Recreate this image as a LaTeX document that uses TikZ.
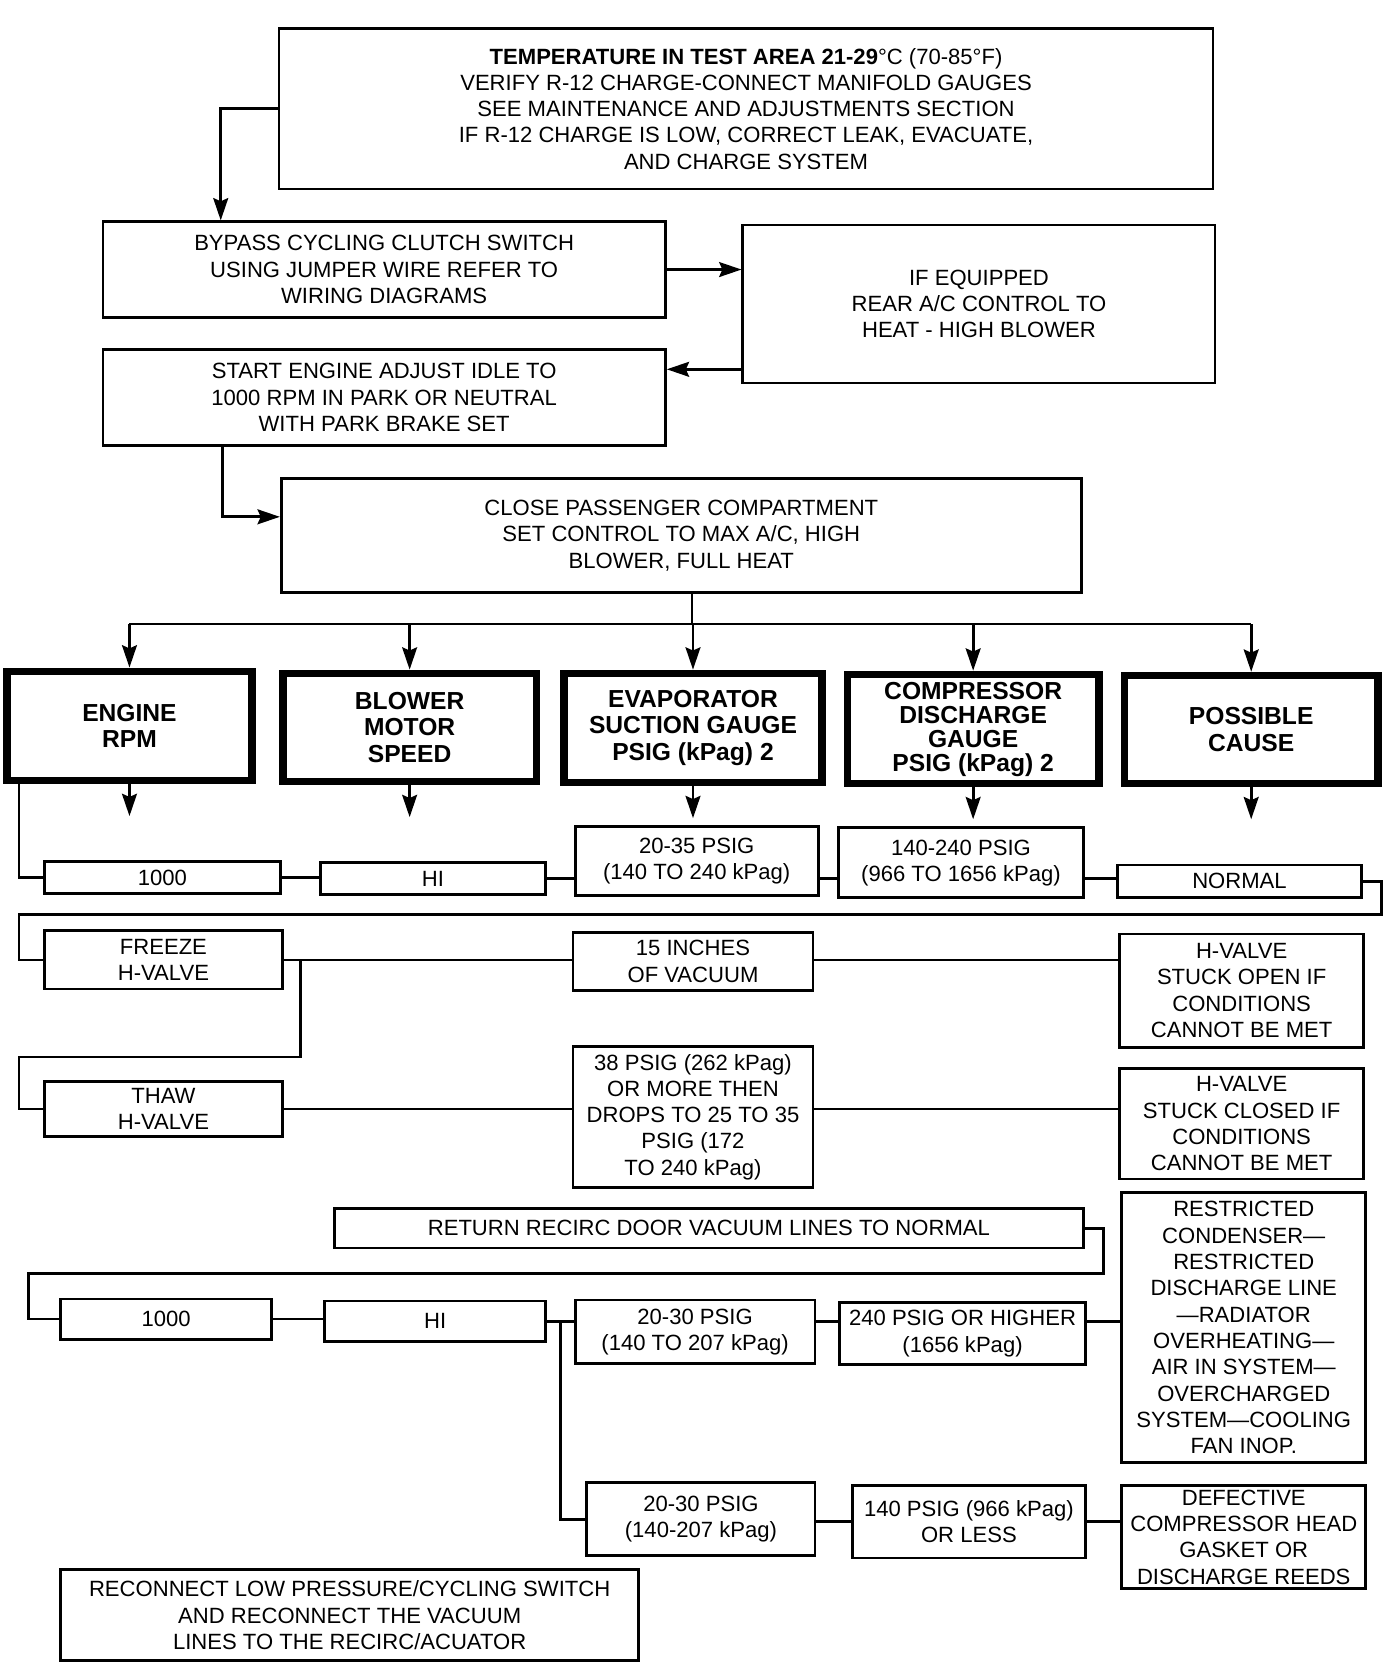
\documentclass[tikz,border=0pt]{standalone}
\usepackage{fontspec}
\setmainfont{Liberation Sans}
\usetikzlibrary{arrows.meta}

\begin{document}
\begin{tikzpicture}[x=0.5pt,y=-0.5pt,
    box/.style={draw,line width=1.3pt,align=center,inner sep=0pt,font=\fontsize{10.4}{12.4}\selectfont},
    headbox/.style={draw,line width=3.5pt,align=center,inner sep=0pt,font=\fontsize{11.6}{12.5}\selectfont\bfseries},
    wire/.style={line width=1.3pt},
    arr/.style={wire,-{Stealth[length=10.5pt,width=7pt,inset=1.5pt]}}]

    \useasboundingbox (0,0) rectangle (1312,1568);

    \node[box,minimum width=440pt,minimum height=75.5pt] (top) at (703,102.5) {\textbf{TEMPERATURE IN TEST AREA 21-29}°C (70-85°F)\\VERIFY R-12 CHARGE-CONNECT MANIFOLD GAUGES\\SEE MAINTENANCE AND ADJUSTMENTS SECTION\\IF R-12 CHARGE IS LOW, CORRECT LEAK, EVACUATE,\\AND CHARGE SYSTEM};
    \node[box,minimum width=265pt,minimum height=45pt] (bypass) at (362,254) {BYPASS CYCLING CLUTCH SWITCH\\USING JUMPER WIRE REFER TO\\WIRING DIAGRAMS};
    \node[box,minimum width=222.5pt,minimum height=74.5pt] (equip) at (922.5,286.5) {IF EQUIPPED\\REAR A/C CONTROL TO\\HEAT - HIGH BLOWER};
    \node[box,minimum width=265pt,minimum height=45.5pt] (start) at (362,374.5) {START ENGINE ADJUST IDLE TO\\1000 RPM IN PARK OR NEUTRAL\\WITH PARK BRAKE SET};
    \node[box,minimum width=377pt,minimum height=53.5pt] (close) at (642,504.5) {CLOSE PASSENGER COMPARTMENT\\SET CONTROL TO MAX A/C, HIGH\\BLOWER, FULL HEAT};

    \node[headbox,minimum width=115.5pt,minimum height=51.5pt] (erpm) at (122,684) {ENGINE\\RPM};
    \node[headbox,minimum width=119.5pt,minimum height=51pt] (blower) at (386,685.5) {BLOWER\\MOTOR\\SPEED};
    \node[headbox,minimum width=121.5pt,minimum height=51.5pt] (evap) at (653,686) {EVAPORATOR\\SUCTION GAUGE\\PSIG (kPag) 2};
    \node[headbox,minimum width=118.5pt,minimum height=51.5pt,font=\fontsize{11.6}{11.3}\selectfont\bfseries] (comp) at (917,687) {COMPRESSOR\\DISCHARGE\\GAUGE\\PSIG (kPag) 2};
    \node[headbox,minimum width=119.5pt,minimum height=51pt] (cause) at (1179,687.5) {POSSIBLE\\CAUSE};

    \node[box,minimum width=111pt,minimum height=15pt] (r1a) at (153,827) {1000};
    \node[box,minimum width=106pt,minimum height=15pt] (r1b) at (408,828) {HI};
    \node[box,minimum width=114.5pt,minimum height=32.5pt] (r1c) at (656.5,811.5) {20-35 PSIG\\(140 TO 240 kPag)};
    \node[box,minimum width=115.5pt,minimum height=33pt] (r1d) at (905.5,813) {140-240 PSIG\\(966 TO 1656 kPag)};
    \node[box,minimum width=115pt,minimum height=15.5pt] (r1e) at (1168,830.5) {NORMAL};

    \node[box,minimum width=112pt,minimum height=27.5pt] (freeze) at (154,904.5) {FREEZE\\H-VALVE};
    \node[box,minimum width=113pt,minimum height=27pt] (vac15) at (653,906) {15 INCHES\\OF VACUUM};
    \node[box,minimum width=115pt,minimum height=53.5pt] (hopen) at (1170,933.5) {H-VALVE\\STUCK OPEN IF\\CONDITIONS\\CANNOT BE MET};

    \node[box,minimum width=112pt,minimum height=26pt] (thaw) at (154,1045) {THAW\\H-VALVE};
    \node[box,minimum width=113pt,minimum height=66.5pt] (drops) at (653,1052.5) {38 PSIG (262 kPag)\\OR MORE THEN\\DROPS TO 25 TO 35\\PSIG (172\\TO 240 kPag)};
    \node[box,minimum width=115pt,minimum height=52pt] (hclosed) at (1170,1059) {H-VALVE\\STUCK CLOSED IF\\CONDITIONS\\CANNOT BE MET};

    \node[box,minimum width=353pt,minimum height=18.5pt] (ret) at (668,1157.5) {RETURN RECIRC DOOR VACUUM LINES TO NORMAL};

    \node[box,minimum width=99.5pt,minimum height=19pt] (r4a) at (156.5,1243) {1000};
    \node[box,minimum width=104pt,minimum height=19pt] (r4b) at (410,1245) {HI};
    \node[box,minimum width=113pt,minimum height=30pt] (r4c) at (655,1255) {20-30 PSIG\\(140 TO 207 kPag)};
    \node[box,minimum width=116pt,minimum height=29.5pt] (r4d) at (907,1256.5) {240 PSIG OR HIGHER\\(1656 kPag)};
    \node[box,minimum width=115pt,minimum height=127pt] (restr) at (1172,1251) {RESTRICTED\\CONDENSER—\\RESTRICTED\\DISCHARGE LINE\\—RADIATOR\\OVERHEATING—\\AIR IN SYSTEM—\\OVERCHARGED\\SYSTEM—COOLING\\FAN INOP.};

    \node[box,minimum width=107.5pt,minimum height=34.5pt] (r5a) at (660.5,1431.5) {20-30 PSIG\\(140-207 kPag)};
    \node[box,minimum width=110pt,minimum height=34pt] (r5b) at (913,1434) {140 PSIG (966 kPag)\\OR LESS};
    \node[box,minimum width=115pt,minimum height=48.5pt] (defect) at (1172,1448.5) {DEFECTIVE\\COMPRESSOR HEAD\\GASKET OR\\DISCHARGE REEDS};

    \node[box,minimum width=272.5pt,minimum height=43pt] (recon) at (329.5,1522) {RECONNECT LOW PRESSURE/CYCLING SWITCH\\AND RECONNECT THE VACUUM\\LINES TO THE RECIRC/ACUATOR};

    \draw[arr] (top.west) -| (bypass.north -| 208,0);
    \draw[arr] (bypass.east) -- (bypass.east -| equip.west);
    \draw[arr] (equip.west |- 0,348) -- (start.east |- 0,348);
    \draw[arr] (start.south -| 210,0) |- (close.west |- 0,487);

    \draw[wire] (close.south -| 652,0) -- (652,588);
    \draw[wire] (erpm.north |- 0,588) -- (cause.north |- 0,588);
    \foreach \h in {erpm,blower,evap,comp,cause} {
        \draw[arr] (\h.north |- 0,588) -- (\h.north);
        \draw[arr] (\h.south) -- ++(0,30);
    }

    \draw[wire] (erpm.south -| 18,0) |- (r1a.west);
    \draw[wire] (r1a.east) -- (r1a.east -| r1b.west);
    \draw[wire] (r1b.east) -- (r1b.east -| r1c.west);
    \draw[wire] (r1b.east -| r1c.east) -- (r1b.east -| r1d.west);
    \draw[wire] (r1b.east -| r1d.east) -- (r1b.east -| r1e.west);
    \draw[wire] (r1e.east) -| (1302,862) -| (freeze.west -| 18,0) -- (freeze.west);

    \draw[wire] (freeze.east) -- (freeze.east -| vac15.west);
    \draw[wire] (freeze.east -| vac15.east) -- (freeze.east -| hopen.west);
    \draw[wire] (freeze.east -| 283,0) |- (18,996) |- (thaw.west);

    \draw[wire] (thaw.east) -- (thaw.east -| drops.west);
    \draw[wire] (thaw.east -| drops.east) -- (thaw.east -| hclosed.west);

    \draw[wire] (ret.east) -| (1040,1200) -| (r4a.west -| 27,0) -- (r4a.west);

    \draw[wire] (r4a.east) -- (r4a.east -| r4b.west);
    \draw[wire] (r4b.east) -- (r4b.east -| r4c.west);
    \draw[wire] (r4b.east -| r4c.east) -- (r4b.east -| r4d.west);
    \draw[wire] (r4b.east -| r4d.east) -- (r4b.east -| restr.west);
    \draw[wire] (r4b.east -| 528,0) |- (r5a.west);

    \draw[wire] (r5b.west -| r5a.east) -- (r5b.west);
    \draw[wire] (r5b.east) -- (r5b.east -| defect.west);
\end{tikzpicture}
\end{document}
